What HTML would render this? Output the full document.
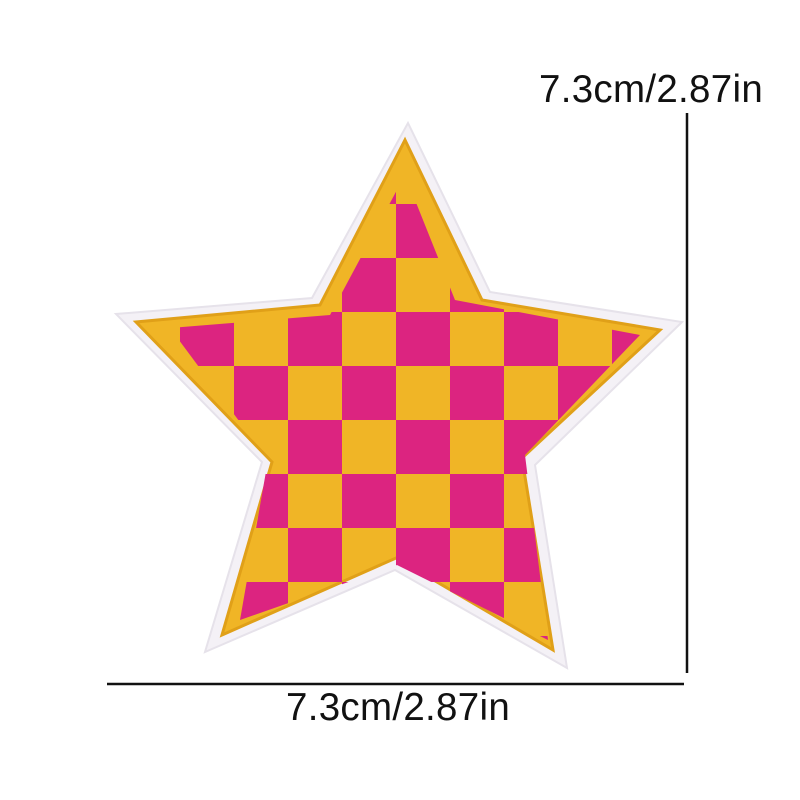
<!DOCTYPE html>
<html><head><meta charset="utf-8"><style>
html,body{margin:0;padding:0;background:#fff;}
svg{display:block;}
text{font-family:"Liberation Sans",sans-serif;font-size:38.5px;fill:#111;letter-spacing:0.3px;}
</style></head><body>
<svg width="800" height="800" viewBox="0 0 800 800">
<defs>
<clipPath id="inner"><polygon points="405,175 455,300 640,335 525,455 548,640 397,565 240,620 268,460 170,328 330,315"/></clipPath>
</defs>
<polygon points="408,123 490,292 682,322 535,465 567,668 395,570 205,652 262,462 116,314 312,298" fill="#f4f1f6" stroke="#e6e2ea" stroke-width="2"/>
<polygon points="405,140 482,300 660,330 522,458 553,650 396,558 222,635 272,462 136,322 320,305" fill="#f0b526" stroke="#e0a018" stroke-width="3"/>
<g clip-path="url(#inner)" id="checks"></g>
<line x1="687" y1="113" x2="687" y2="673" stroke="#111" stroke-width="2.5"/>
<line x1="107" y1="684" x2="684" y2="684" stroke="#111" stroke-width="2.5"/>
<text x="539" y="102">7.3cm/2.87in</text>
<text x="286" y="720">7.3cm/2.87in</text>
</svg>
<script>
const g=document.getElementById('checks');
const cell=54, x0=180, y0=312;
for(let r=-4;r<8;r++){for(let c=-1;c<10;c++){
  if(((r+c)%2+2)%2!==0) continue;
  const el=document.createElementNS('http://www.w3.org/2000/svg','rect');
  
  
  el.setAttribute('x',x0+c*cell);el.setAttribute('y',y0+r*cell);
  el.setAttribute('width',cell);el.setAttribute('height',cell);
  el.setAttribute('fill','#dc2480');
  g.appendChild(el);
}}
</script>
</body></html>
